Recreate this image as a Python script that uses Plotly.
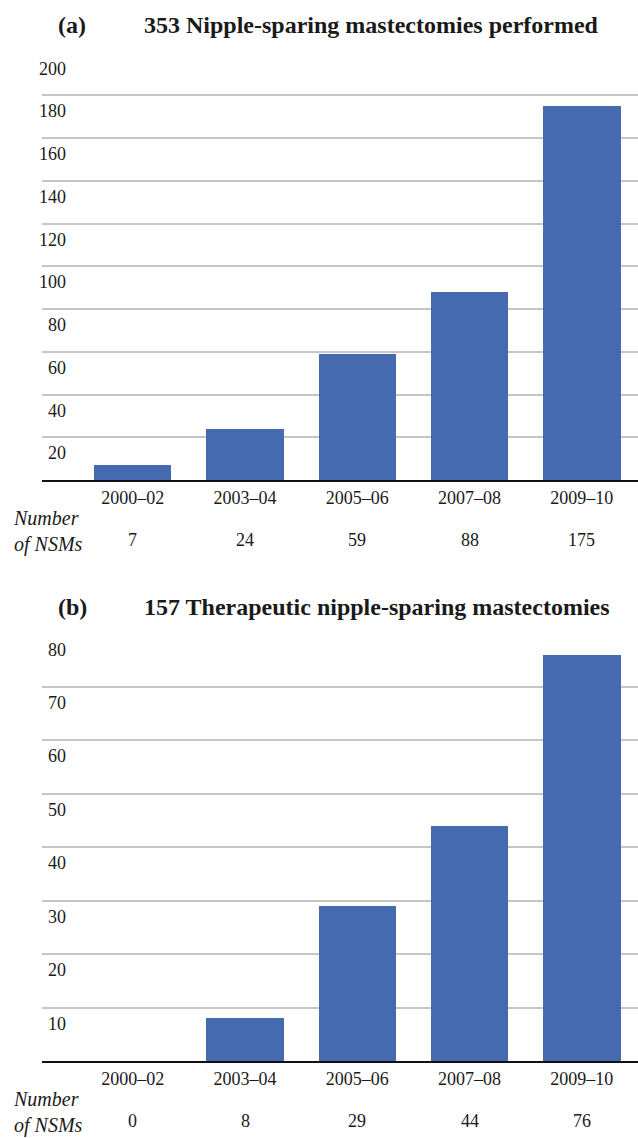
import plotly.graph_objects as go

categories = ["2000–02", "2003–04", "2005–06", "2007–08", "2009–10"]
values_a = [7, 24, 59, 88, 175]
values_b = [0, 8, 29, 44, 76]
ticks_a = [20, 40, 60, 80, 100, 120, 140, 160, 180, 200]
ticks_b = [10, 20, 30, 40, 50, 60, 70, 80]
title_a = "353 Nipple-sparing mastectomies performed"
title_b = "157 Therapeutic nipple-sparing mastectomies"
label_a = "(a)"
label_b = "(b)"
row_label = "Number<br>of NSMs"

W, H = 638, 1138
FONT = "Liberation Serif"
TXT = "#1a1a1a"
BAR = "#466AB0"
GRID = "#c6c6c6"

xpos = list(range(len(categories)))

fig = go.Figure()
fig.add_trace(go.Bar(x=xpos, y=values_a, marker=dict(color=BAR, line=dict(width=0)),
                     width=0.69, xaxis="x", yaxis="y", hoverinfo="skip"))
fig.add_trace(go.Bar(x=xpos, y=values_b, marker=dict(color=BAR, line=dict(width=0)),
                     width=0.69, xaxis="x2", yaxis="y2", hoverinfo="skip"))

xd = [42 / W, 1.0]
dom_a = [1 - 480 / H, 1 - 52 / H]
dom_b = [1 - 1061 / H, 1 - 633 / H]
xr = [-0.808, 4.5]

xcommon = dict(domain=xd, range=xr, tickmode="array", tickvals=xpos, ticktext=categories,
               showline=True, linecolor="#111111", linewidth=2, ticks="", showgrid=False,
               zeroline=False, tickfont=dict(family=FONT, size=18, color=TXT), fixedrange=True)
fig.update_layout(
    xaxis=dict(anchor="y", **xcommon),
    xaxis2=dict(anchor="y2", **xcommon),
    yaxis=dict(domain=dom_a, anchor="x", range=[0, 200.3], tickmode="array", tickvals=ticks_a,
               showticklabels=False, showgrid=True, gridcolor=GRID, gridwidth=1.6,
               zeroline=False, showline=False, ticks=""),
    yaxis2=dict(domain=dom_b, anchor="x2", range=[0, 80.12], tickmode="array", tickvals=ticks_b,
                showticklabels=False, showgrid=True, gridcolor=GRID, gridwidth=1.6,
                zeroline=False, showline=False, ticks=""),
    width=W, height=H, margin=dict(l=0, r=0, t=0, b=0),
    plot_bgcolor="white", paper_bgcolor="white", showlegend=False, bargap=0,
)

ann = []
# y tick labels (sit below their gridlines, right-aligned)
for yref, ticks in (("y", ticks_a), ("y2", ticks_b)):
    for t in ticks:
        ann.append(dict(x=68 / W, xref="paper", xanchor="right", y=t, yref=yref, yanchor="middle",
                        yshift=-16, text=str(t), showarrow=False,
                        font=dict(family=FONT, size=18, color=TXT)))

# count rows
for xref, yref, vals in (("x", "y", values_a), ("x2", "y2", values_b)):
    for i, v in enumerate(vals):
        ann.append(dict(x=i, xref=xref, y=0, yref=yref + " domain", yanchor="middle", yshift=-60,
                        text=str(v), showarrow=False, font=dict(family=FONT, size=18, color=TXT)))
    ann.append(dict(x=12 / W, xref="paper", xanchor="left", y=0, yref=yref + " domain",
                    yanchor="middle", yshift=-51, text="<i>" + row_label + "</i>", align="left",
                    showarrow=False, borderpad=0, font=dict(family=FONT, size=20, color=TXT)))

# panel titles
for lab, ttl, ypix in ((label_a, title_a, 25), (label_b, title_b, 607)):
    ann.append(dict(x=56 / W, xref="paper", xanchor="left", y=1 - ypix / H, yref="paper",
                    yanchor="middle", text="<b>" + lab + "</b>", showarrow=False,
                    font=dict(family=FONT, size=24, color=TXT)))
    ann.append(dict(x=142 / W, xref="paper", xanchor="left", y=1 - ypix / H, yref="paper",
                    yanchor="middle", text="<b>" + ttl + "</b>", showarrow=False,
                    font=dict(family=FONT, size=24, color=TXT)))

fig.update_layout(annotations=ann)
fig.write_html("out.html", config={"displayModeBar": False},
               post_script="document.body.style.margin='0';document.body.style.overflow='hidden';")
